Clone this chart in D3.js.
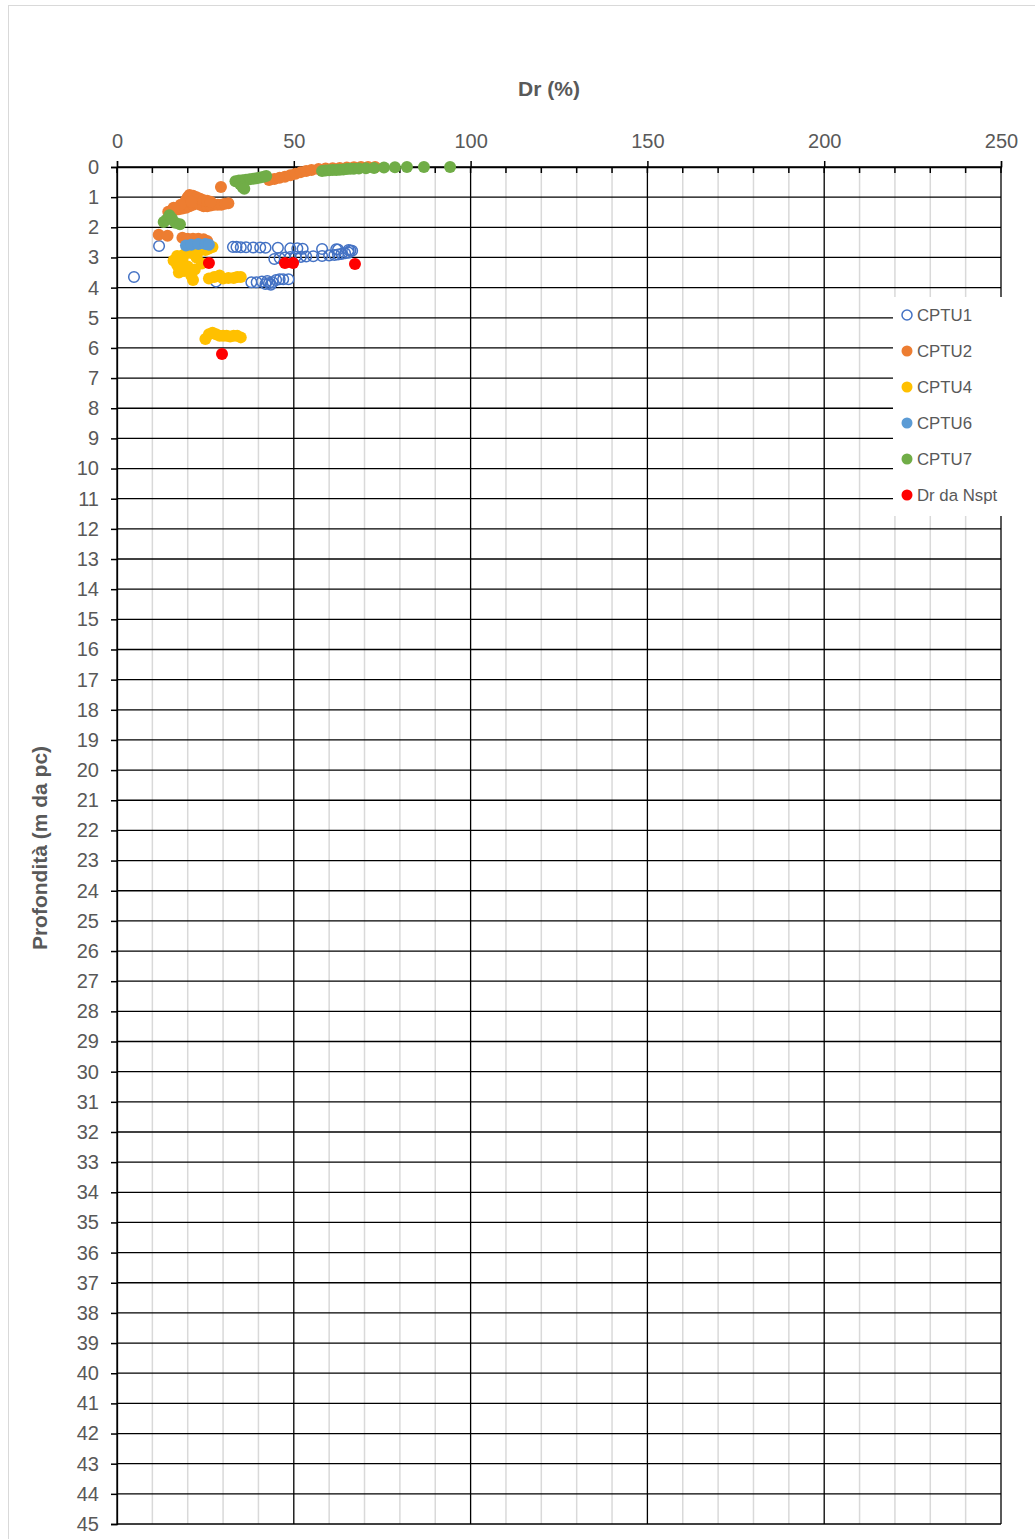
<!DOCTYPE html>
<html>
<head>
<meta charset="utf-8">
<script src="https://cdn.jsdelivr.net/npm/d3@7"></script>
<style>
  html, body { margin: 0; padding: 0; background: #fff; }
  svg { display: block; }
  text { font-family: "Liberation Sans", Arial, sans-serif; }
</style>
</head>
<body>
<svg id="chart" width="1035" height="1539"></svg>
<script>
// ---------------- DATA ----------------
const xTicks = [0, 50, 100, 150, 200, 250];
const yTicks = d3.range(0, 46, 1);

// CPTU1 (hollow)
const cptu1 = [
  [4.8, 3.65], [11.9, 2.62],
  [32.8, 2.65], [33.8, 2.65], [35.0, 2.66], [36.5, 2.66], [38.5, 2.67], [40.5, 2.67], [42.0, 2.68], [45.5, 2.68],
  [49.0, 2.7], [51.0, 2.7], [52.5, 2.71], [58.0, 2.72], [62.0, 2.73], [62.5, 2.74], [65.5, 2.75], [66.0, 2.77], [66.5, 2.78],
  [44.5, 3.05], [46.0, 3.02], [47.5, 3.0], [49.0, 2.99], [50.5, 2.98], [52.0, 2.98], [53.5, 2.97], [55.5, 2.96],
  [58.0, 2.95], [60.0, 2.93], [61.5, 2.92], [62.5, 2.9], [63.5, 2.88], [64.5, 2.86], [65.5, 2.84],
  [28.0, 3.8], [38.0, 3.82], [39.5, 3.82], [41.0, 3.8], [42.0, 3.88], [42.5, 3.78], [43.0, 3.85], [43.5, 3.9], [44.0, 3.82],
  [45.0, 3.75], [46.0, 3.72], [47.0, 3.72], [48.5, 3.72]
];

// CPTU2
const cptu2 = [
  [43.0, 0.43], [44.5, 0.4], [46.0, 0.36], [47.5, 0.32], [49.0, 0.27], [50.5, 0.22], [52.0, 0.17], [53.5, 0.13],
  [55.0, 0.1], [57.0, 0.07], [59.0, 0.05], [61.0, 0.04], [63.0, 0.03], [65.0, 0.02], [67.0, 0.01], [69.0, 0.0],
  [71.0, 0.0], [73.0, 0.0],
  [29.4, 0.66],
  [14.5, 1.48], [15.5, 1.45], [16.5, 1.42], [17.5, 1.4], [18.5, 1.38], [19.5, 1.35], [20.5, 1.3], [21.5, 1.25],
  [22.5, 1.2], [23.5, 1.25], [24.5, 1.3], [25.5, 1.3], [26.5, 1.28], [27.5, 1.25], [28.5, 1.25], [29.5, 1.25],
  [30.5, 1.22], [31.5, 1.2], [19.5, 1.1], [20.0, 1.0], [20.5, 0.93], [21.5, 0.95], [22.5, 1.0], [23.5, 1.05],
  [24.5, 1.1], [25.5, 1.12], [26.5, 1.15], [18.0, 1.25], [16.0, 1.35], [21.0, 1.15],
  [11.8, 2.25], [14.3, 2.28], [18.5, 2.35], [20.0, 2.38], [21.5, 2.38], [23.0, 2.38], [24.5, 2.4], [25.5, 2.45]
];

// CPTU4
const cptu4 = [
  [17.0, 2.95], [19.0, 2.9], [21.0, 2.85], [23.0, 2.8], [25.0, 2.75], [26.0, 2.7], [27.0, 2.65],
  [16.0, 3.1], [17.0, 3.25], [18.0, 3.4], [17.5, 3.5], [19.0, 3.45], [20.0, 3.3], [21.0, 3.6], [21.5, 3.75],
  [22.0, 3.4], [24.0, 3.2], [18.5, 3.05], [22.5, 3.0],
  [26.0, 3.7], [27.5, 3.65], [29.0, 3.6], [30.0, 3.7], [31.5, 3.68], [33.0, 3.68], [34.0, 3.65], [35.0, 3.65],
  [25.0, 5.7], [26.0, 5.55], [27.0, 5.5], [28.0, 5.55], [29.0, 5.6], [30.0, 5.6], [31.0, 5.6], [32.0, 5.62],
  [33.0, 5.6], [34.0, 5.6], [35.0, 5.65]
];

// CPTU6
const cptu6 = [
  [19.5, 2.6], [21.0, 2.58], [23.0, 2.55], [25.0, 2.55], [26.0, 2.58]
];

// CPTU7
const cptu7 = [
  [58.0, 0.13], [59.0, 0.12], [60.0, 0.11], [61.0, 0.1], [62.0, 0.1], [63.0, 0.09], [64.0, 0.08], [65.0, 0.07],
  [66.0, 0.06], [67.0, 0.06], [68.4, 0.05], [70.4, 0.04], [72.7, 0.03],
  [75.5, 0.02], [78.6, 0.01], [82.0, 0.0], [86.8, 0.0], [94.2, 0.0],
  [33.5, 0.47], [34.5, 0.45], [35.5, 0.44], [36.5, 0.42], [37.5, 0.41], [38.5, 0.39], [39.5, 0.37], [40.5, 0.35],
  [41.5, 0.32], [42.2, 0.3], [34.8, 0.56], [35.5, 0.66], [36.0, 0.72],
  [13.2, 1.82], [14.0, 1.75], [14.8, 1.6], [15.5, 1.7], [16.5, 1.85], [17.8, 1.9]
];

// Dr da Nspt
const nspt = [
  [26.0, 3.18], [47.5, 3.18], [49.8, 3.18], [67.3, 3.22], [29.7, 6.2]
];

const seriesNames = ["CPTU1", "CPTU2", "CPTU4", "CPTU6", "CPTU7", "Dr da Nspt"];
const seriesColors = ["#4472C4", "#ED7D31", "#FFC000", "#5B9BD5", "#70AD47", "#FF0000"];
const seriesData = [cptu1, cptu2, cptu4, cptu6, cptu7, nspt];

// ---------------- CHART ----------------
const svg = d3.select("#chart");
const plotL = 117, plotR = 1001, plotT = 167, plotB = 1524;
const x = d3.scaleLinear().domain([0, 250]).range([plotL, plotR]);
const y = d3.scaleLinear().domain([0, 45]).range([plotT, plotB]);
const textColor = "#595959";

// outer border
svg.append("rect").attr("x", 8.5).attr("y", 5.5).attr("width", 1040).attr("height", 1550)
  .attr("fill", "#fff").attr("stroke", "#D9D9D9").attr("stroke-width", 1);

// minor vertical gridlines
const minorX = d3.range(10, 250, 10).filter(v => v % 50 !== 0);
svg.append("g").selectAll("line").data(minorX).join("line")
  .attr("x1", d => x(d)).attr("x2", d => x(d))
  .attr("y1", plotT).attr("y2", plotB)
  .attr("stroke", "#D9D9D9").attr("stroke-width", 1.5);

// major vertical gridlines
svg.append("g").selectAll("line").data(xTicks).join("line")
  .attr("x1", d => x(d)).attr("x2", d => x(d))
  .attr("y1", plotT).attr("y2", plotB)
  .attr("stroke", "#000").attr("stroke-width", 1.3);

// horizontal gridlines
svg.append("g").selectAll("line").data(yTicks).join("line")
  .attr("x1", plotL).attr("x2", plotR)
  .attr("y1", d => y(d)).attr("y2", d => y(d))
  .attr("stroke", "#000").attr("stroke-width", 1.3);

// top axis
const xAxis = d3.axisTop(x).tickValues(xTicks).tickSize(6).tickPadding(13);
const gx = svg.append("g").attr("transform", `translate(0,${plotT})`).call(xAxis);
gx.select(".domain").attr("stroke", "#000").attr("stroke-width", 1.3);
gx.selectAll(".tick line").attr("stroke", "#000").attr("stroke-width", 1.5);
gx.selectAll(".tick text").attr("fill", textColor).attr("font-size", 20)
  .attr("font-family", "Liberation Sans, Arial, sans-serif");
// minor ticks (inside)
svg.append("g").selectAll("line").data(d3.range(0, 251, 10)).join("line")
  .attr("x1", d => x(d)).attr("x2", d => x(d))
  .attr("y1", plotT).attr("y2", plotT + 6)
  .attr("stroke", "#000").attr("stroke-width", 1.5);

// left axis
const yAxis = d3.axisLeft(y).tickValues(yTicks).tickFormat(d3.format("d")).tickSize(6).tickPadding(12);
const gy = svg.append("g").attr("transform", `translate(${plotL},0)`).call(yAxis);
gy.select(".domain").attr("stroke", "#000").attr("stroke-width", 1.3);
gy.selectAll(".tick line").attr("stroke", "#000").attr("stroke-width", 1.5);
gy.selectAll(".tick text").attr("fill", textColor).attr("font-size", 20)
  .attr("font-family", "Liberation Sans, Arial, sans-serif");

// axis titles
svg.append("text").attr("x", 549).attr("y", 96).attr("text-anchor", "middle")
  .attr("font-size", 21).attr("font-weight", "bold").attr("fill", textColor).text("Dr (%)");
svg.append("text").attr("transform", "translate(47,848) rotate(-90)").attr("text-anchor", "middle")
  .attr("font-size", 21).attr("font-weight", "bold").attr("fill", textColor).text("Profondità (m da pc)");

// points
seriesData.forEach((data, i) => {
  const g = svg.append("g");
  const c = g.selectAll("circle").data(data).join("circle")
    .attr("cx", d => x(d[0])).attr("cy", d => y(d[1])).attr("r", 6);
  if (i === 0) {
    c.attr("fill", "none").attr("stroke", seriesColors[i]).attr("stroke-width", 1.5).attr("r", 5.3);
  } else {
    c.attr("fill", seriesColors[i]);
  }
});

// legend
const lg = svg.append("g");
lg.append("rect").attr("x", 893).attr("y", 297).attr("width", 112).attr("height", 219).attr("fill", "#fff");
seriesNames.forEach((name, i) => {
  const cy = 315 + i * 36;
  const m = lg.append("circle").attr("cx", 907).attr("cy", cy).attr("r", 5.5);
  if (i === 0) m.attr("fill", "#fff").attr("stroke", seriesColors[i]).attr("stroke-width", 1.5).attr("r", 5);
  else m.attr("fill", seriesColors[i]);
  lg.append("text").attr("x", 917).attr("y", cy + 6).attr("font-size", 16.8)
    .attr("font-family", "Carlito, 'Liberation Sans', sans-serif")
    .attr("fill", textColor).text(name);
});
</script>
</body>
</html>
